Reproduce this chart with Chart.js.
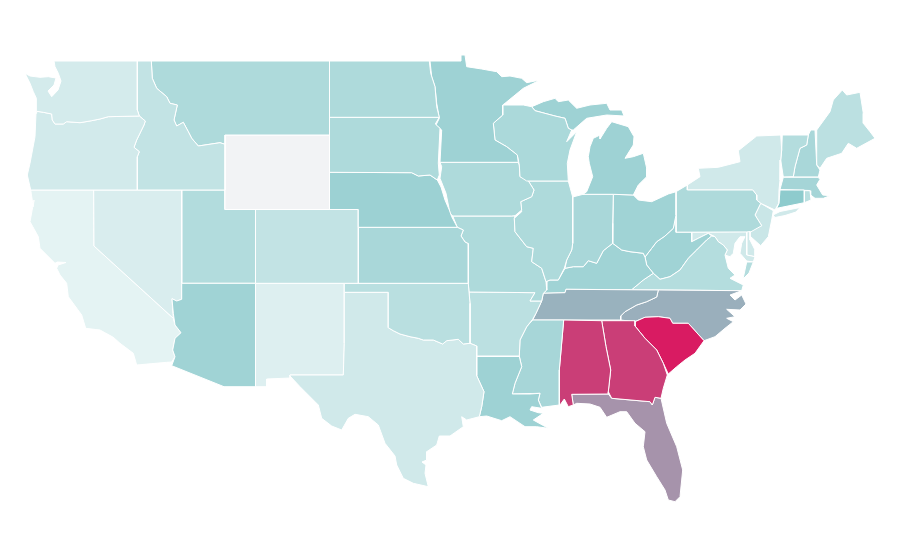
<!DOCTYPE html>
<html><head><meta charset="utf-8">
<style>html,body{margin:0;padding:0;background:#fff}#w{width:900px;height:560px}</style>
<script src="https://cdn.jsdelivr.net/npm/chart.js@4"></script></head>
<body><div id="w"><canvas id="c" width="900" height="560"></canvas></div>
<script>
// State outlines in map units, flat x,y lists
const WA=[54,61,137.3,61,137.3,110,139.3,116,108.3,116.7,100,119,91.7,120.7,80,122.7,66.7,121.7,63.3,124,55,124,52.3,120,51.7,114,43.3,112.3,36.7,111.3,36,103.3,36.7,98.3,33.3,91.7,30,83.3,25,73.3,30,76,40,77.3,48.3,76.7,56,78,54,85,48,91,51.7,96.7,58,90,61,81,58.3,73.3,55,66.7];
const OR=[36.7,111.3,43.3,112.3,51.7,114,52.3,120,55,124,63.3,124,66.7,121.7,80,122.7,91.7,120.7,100,119,108.3,116.7,139.3,116,145.3,121,144,125,136.7,140,134,147.3,139.3,151.7,137.3,156.7,137.3,190,30.7,190,27.3,175,30,163.3,35,136.7,36,113.3];
const ID=[137.3,61,151.3,61,152.3,78.3,156.7,88.3,166.7,96.7,170,103.3,177.3,105,174,120,176.7,126,183.3,122.3,188.3,131.7,191.7,138.3,198.3,146,220,142.7,225,144.3,225,190,137.3,190,137.3,156.7,139.3,151.7,134,147.3,136.7,140,144,125,145.3,121,139.3,116,137.3,110];
const MT=[151.3,61,329.5,61,329.5,135,225,135,225,144.3,220,142.7,198.3,146,191.7,138.3,188.3,131.7,183.3,122.3,176.7,126,174,120,177.3,105,170,103.3,166.7,96.7,156.7,88.3,152.3,78.3];
const WY=[225,135,329.5,135,329.5,209.5,225,209.5];
const ND=[329.5,61,429.3,61,430.7,73.3,435,86.7,436.7,106.7,439.3,117.3,329.5,117.3];
const SD=[329.5,117.3,439.3,117.3,435.3,124,440,128.3,438.3,163.3,439.3,175,437.3,180,430,175,418.3,176,411.7,172.7,329.5,172.3];
const NE=[329.5,172.3,411.7,172.7,418.3,176,430,175,437.3,180,441,187,445,200,449.3,210,451.7,216.7,457.3,227.3,358.3,227.3,358.3,209.5,329.5,209.5];
const CO=[255.5,209.5,358.3,209.5,358.3,283.3,255.5,283.3];
const KS=[358.3,227.3,457.3,227.3,463.3,230,461,236,465,242,468.3,243.7,468.3,283.3,358.3,283.3];
const OK=[344.3,283.3,468.3,283.3,469,292,470,303.3,470,343.3,463.3,344,458.3,339.3,446.7,340.7,442.7,344,433.3,340,423.3,340,418.3,338.3,410,336.7,400,334,393.3,330.7,388.3,327.7,388.3,292.3,344.3,292.3];
const TX=[344.3,292.3,388.3,292.3,388.3,327.7,393.3,330.7,400,334,410,336.7,418.3,338.3,423.3,340,433.3,340,442.7,344,446.7,340.7,458.3,339.3,463.3,344,470,343.3,476.7,346,476.7,375.7,484,391.7,481.7,406.7,479.3,416.7,466.7,420,461.7,416.7,463.3,426.7,450,436,439.3,436,436.7,445,426.7,451.7,426.7,460,422,462,426,465,425,473.3,428.3,486.7,413.3,483.3,403.3,478.3,396.7,465,395,456,385,443.3,378.3,425,368.3,416.7,355,414.3,348.3,418.3,341.7,430,331.7,426,321.7,418.3,318.3,405,310,396.7,300,386.7,290,376,290,375,343.3,375,344.3,343.3];
const NM=[255.5,283.3,344.3,283.3,344.3,343.3,343.3,375,290,375,290,378,266.7,379,266.7,386.7,255.5,386.7];
const AZ=[181.7,283.3,255.5,283.3,255.5,386.7,224,386.7,171.7,365.7,175,356.7,172.7,350,175,338.3,181,332.7,175,325,173.3,313.3,172,298.7,176.7,301,181.7,299.3];
const NV=[93.7,190,181.7,190,181.7,299.3,176.7,301,172,298.7,173.3,318.3,94,246];
const UT=[181.7,190,225,190,225,209.5,255.5,209.5,255.5,283.3,181.7,283.3];
const CA=[30.7,190,93.7,190,94,246,173.3,318.3,175,325,181,332.7,175,338.3,172.7,350,175,356.7,171.7,362,166.7,362.3,136.7,365,133.3,353.3,120,343.3,113.3,337.3,100,330,85.7,328.3,81.7,315,68.3,296.7,66.7,283.3,60,275,56.7,268.3,58,265,66,262.5,57.3,262,55,263.3,40,248.3,38.3,236.7,30,221.7,34,200,33.3,206.7];
const MN=[430,61,461,61,461,55,465,55,466.7,66.7,481.7,69,496.7,71.7,501.7,76.7,510,76,521.7,78.3,526.7,82.7,540,80,523.3,88.3,505,103.3,502.7,105,502.7,115,493.3,123.3,495,140,506.7,146.7,517.3,155,518.3,162.3,440,162.3,441.7,130,436,125,439.3,118.3,436.7,103.3,435,86.7,431.7,76.7];
const WI=[502.7,105,523.3,105,531.7,106.7,535,110.7,555,116,565,118.3,568.3,128.3,571.7,130,566.7,141.7,576.7,131.7,570,150,567.3,163.3,568.3,181,526.7,181,520,176.7,519.3,165,517.3,155,506.7,146.7,495,140,493.3,123.3,502.7,115];
const MIU=[531.7,106.7,543.3,101.7,555,98.3,558.3,101.7,568.3,100,576.7,108.3,590,105,606.7,103.3,610,110,621.7,110,624,116,606.7,115,586.7,118.3,573.3,130,571.7,130,568.3,128.3,565,118.3,555,116,535,110.7];
const MIL=[611.7,121.7,628.3,126.7,634,136.7,633.3,145,625,158.3,633.3,156.7,643.3,153.3,646.7,168.3,646.7,176.7,638.3,185,633.3,195,613.3,194.3,583,194.3,586.7,191.7,592.7,176.7,589.3,163.3,588.3,156.7,590,146.7,593.3,138.3,600,135,600,139,606.7,128.3];
const IA=[440,162.3,518.3,162.3,519.3,165,520,176.7,526.7,178.3,534,190,531.7,196.7,520.7,201.7,521.7,210,515,215.7,511.7,216,452.7,216,450,213.3,446,193.3,440,178.3,441.7,166.7];
const IL=[526.7,181,568.3,181,572.7,197,572.7,243.3,571.7,250,566.7,260,564.3,268.3,558.3,280,550,280,546,281.7,541.7,268.3,531.7,261.7,533.3,248.3,526.7,246.7,515,231.7,514.3,218.3,521.7,211.7,520.7,201.7,531.7,196.7,534,190,526.7,178.3];
const IN=[572.7,197,583,194.3,613.3,194.3,612.7,223.3,612.7,243.3,603.3,250.7,596.7,263.3,588.3,260.7,583.3,266.7,573.3,266.7,565,268.3,566.7,260,571.7,250,572.7,243.3];
const OH=[613.3,194.3,633.3,195,638.3,200,651.7,201.7,668.3,194,676,191.7,676,215,673.3,228.3,665,236,656.7,241.7,651.7,248.3,645,257,643.3,253.3,630,251.7,621.7,250,612.7,243.3];
const MO=[452.7,216,511.7,216,515,215.7,514.3,218.3,515,231.7,526.7,246.7,533.3,248.3,531.7,261.7,541.7,268.3,546,281.7,546.7,290,543.3,293.3,541.7,301,530,301,535,292.7,469,292,468.3,283.3,468.3,243.7,465,242,461,236,463.3,230,457.3,227.3];
const AR=[469,292,535,292.7,530,301,541.7,301,536,313.3,532.7,319.3,526.7,326.7,520,340,519.3,356,476.7,356,476.7,346,470,343.3,470,303.3];
const LA=[476.7,356.5,519.3,356.5,521.7,366.7,515,383.3,512.3,394,530,394,540,393.3,538.3,400,541.7,408.3,531.7,406.7,530,410,538.3,412.7,543.3,413.3,533.3,420,548.3,428.3,536.7,426.7,525,426.7,510,416.7,501.7,420.7,486.7,416,479.3,416.7,481.7,406.7,484,391.7,476.7,375.7];
const MS=[532.7,320,563.7,320,559.3,370,559.3,405,541.7,407.3,538.3,400,540,393.3,512.3,394,515,383.3,521.7,366.7,519.3,356,520,340,526.7,326.7];
const AL=[563.7,320,601.7,320.7,606,346.7,610.7,370,608.3,391.7,608.3,394,571.7,394.3,573.3,405,568.3,406.7,564.3,399,560,405,559.3,405,559.3,370];
const GA=[601.7,320.7,635,320.7,635,326,645,338.3,656.7,350,663.3,363.3,667.3,375,663.3,388.3,661,398.3,655,397.3,652.3,405,650,401.7,611.7,398.3,608.3,391.7,610.7,370,606,346.7];
const SC=[635,321.7,645,317.3,658.3,316.7,670,318.3,672.7,323.3,688.3,323.3,704,340.7,695,353.3,685,360,676.7,366.7,668.3,374,663.3,363.3,656.7,350,645,338.3,635,326];
const FL=[571.7,394.3,608.3,394,611.7,398.3,650,401.7,652.3,405,655,397.3,661,398.3,666.7,423.3,676.7,446.7,682.7,470,680,496.7,675,501.7,668.3,500,665,490,656.7,476.7,646.7,460,643.3,446.7,645,431.7,635,423.3,626.7,411.7,620,411.7,606.7,417.3,600,407.3,590,404,576.7,403.3,573.3,405];
const TN=[543.3,293.3,565,292.7,566,289.3,658.3,290,656.7,297,646.7,301.7,636.7,305,625,311.7,620.7,316,620.7,320,532.7,320,536,313.3,541.7,301];
const NC=[658.3,290,741.7,290.7,730,295,735,300,741.7,295,746,304,740,310,726.7,309.3,735,316.7,726.7,318.3,733.3,321.7,725,328.3,715,336.7,704,340.7,688.3,323.3,672.7,323.3,670,318.3,658.3,316.7,645,317.3,635,321.7,620.7,320,620.7,316,625,311.7,636.7,305,646.7,301.7,656.7,297];
const KY=[566,289.3,631.7,289.7,643.3,280,653.3,273.3,646.7,265,645,257,643.3,253.3,630,251.7,621.7,250,612.7,243.3,603.3,250.7,596.7,263.3,588.3,260.7,583.3,266.7,573.3,266.7,565,268.3,558.3,280,550,280,546,281.7,546.7,290,543.3,293.3,565,292.7];
const VA=[631.7,289.7,741.7,290.7,743.3,285,730,278.3,735,275,728.3,268.3,725,255,727.3,250,723.3,245,718.3,241.7,715,236.7,711.7,236,706.7,240,696.7,250,688.3,258.3,680,270,670,276.7,660,279.3,653.3,273.3,643.3,280];
const VAE=[746.7,262,753.3,262,749,273,743,279];
const WV=[676,215,676,232.3,691.7,232.3,691.7,241.7,698.3,238.3,708.3,233.3,711.7,236,706.7,240,696.7,250,688.3,258.3,680,270,670,276.7,660,279.3,653.3,273.3,646.7,265,645,257,651.7,248.3,656.7,241.7,665,236,673.3,228.3];
const MD=[691.7,232.3,746.7,232,746.7,255,755,256.7,753.3,262,746.7,261,740,253.3,741.7,243.3,745,236.7,740,236.7,735,243.3,733.3,253.3,730,256.7,725,255,727.3,250,723.3,245,718.3,241.7,715,236.7,708.3,233.3,698.3,238.3,691.7,241.7];
const DE=[746.7,232,750,231.5,750,240,755,250,755,256.7,746.7,255];
const PA=[676,191.7,687.3,185,687.3,190,752.7,190,756.7,195,756.7,200,760.7,203.3,755,215,761.7,225.7,750,232.3,676,232.3];
const NY=[687.3,190,687.3,185,700,176.7,698.3,168.3,718.3,167.3,740,161.7,738.3,150.7,756.7,136,780.7,135,781.7,150,780.7,160,780,180,779,190,778.7,203.3,775,210,760.7,203.3,756.7,200,756.7,195,752.7,190];
const NYL=[773,215,780,211.5,800,207.5,796,212,785,215.5,775,217.5];
const NJ=[760.7,203.3,773.3,210.7,771.7,220,768.3,236.7,760.7,245.7,750.7,236.7,747.3,231.7,761.7,225.7,755,215];
const CT=[780,190,804.3,190,804.3,202.7,776.7,208.3,779,203.3];
const RI=[804.3,190.7,810,190.7,810.7,197,811,200,804.3,202.7];
const MA=[783.3,177.3,818,177.3,820,179.3,816.7,185,822.7,195,830,195.7,823.3,198.3,815,198.3,810.7,195,810,190.5,780,189.5];
const VT=[782.3,135,808.3,135,806.7,145,800,148.3,795,166.7,793.3,176.7,783.3,177,780.7,160,781.7,150];
const NH=[808.3,135,810.7,130,815,130,816.7,165,820,170,818.3,177,793.3,177,795,166.7,800,148.3,806.7,145];
const ME=[816.7,130,830,111.7,833.3,100,842.3,90,846.7,95,860,92.3,863.3,113.3,863.3,123.3,870,131.7,875,138.3,856.7,148.3,848.3,143.3,841.7,153.3,826.7,158.3,820,168.3,816.7,165];

const stateOutlines=[WA,OR,ID,MT,WY,ND,SD,NE,CO,KS,OK,TX,NM,AZ,NV,UT,CA,MN,WI,MIU,MIL,IA,IL,IN,OH,MO,AR,LA,MS,AL,GA,SC,FL,TN,NC,KY,VA,VAE,WV,MD,DE,PA,NY,NYL,NJ,CT,RI,MA,VT,NH,ME];
const stateNames=['Washington','Oregon','Idaho','Montana','Wyoming','North Dakota','South Dakota','Nebraska','Colorado','Kansas','Oklahoma','Texas','New Mexico','Arizona','Nevada','Utah','California','Minnesota','Wisconsin','Michigan','Michigan','Iowa','Illinois','Indiana','Ohio','Missouri','Arkansas','Louisiana','Mississippi','Alabama','Georgia','South Carolina','Florida','Tennessee','North Carolina','Kentucky','Virginia','Virginia','West Virginia','Maryland','Delaware','Pennsylvania','New York','New York','New Jersey','Connecticut','Rhode Island','Massachusetts','Vermont','New Hampshire','Maine'];
const stateValues=[19,20,27,36,null,36,36,44,27,38,31,21,15,42,17,34,12,43,37,43,43,36,36,38,42,36,30,43,39,90,90,100,66,57,58,42,33,33,42,21,21,36,21,21,24,50,31,40,33,38,30];

const lowColor=[255,255,255], midColor=[142,203,205], highColor=[217,27,98], noData='#f2f3f5';
function colorFor(v){
  if(v===null) return noData;
  const a=v<=50?lowColor:midColor, b=v<=50?midColor:highColor, t=v<=50?v/50:(v-50)/50;
  return 'rgb('+a.map((c,i)=>Math.round(c+(b[i]-c)*t)).join(',')+')';
}
function toPoints(flat){
  const p=[];
  for(let i=0;i<flat.length;i+=2)p.push({x:flat[i],y:flat[i+1]});
  p.push({x:flat[0],y:flat[1]});
  return p;
}
new Chart(document.getElementById('c'),{
  type:'scatter',
  data:{datasets:stateOutlines.map((o,i)=>({
    label:stateNames[i],data:toPoints(o),showLine:true,fill:'shape',
    backgroundColor:colorFor(stateValues[i]),borderColor:'#ffffff',borderWidth:1,
    pointRadius:0,pointHoverRadius:0,tension:0
  }))},
  options:{
    responsive:false,animation:false,
    layout:{padding:0},
    plugins:{legend:{display:false},title:{display:false},tooltip:{enabled:false}},
    scales:{
      x:{type:'linear',min:0,max:900,display:false},
      y:{type:'linear',min:0,max:560,reverse:true,display:false}
    }
  }
});
</script></body></html>
